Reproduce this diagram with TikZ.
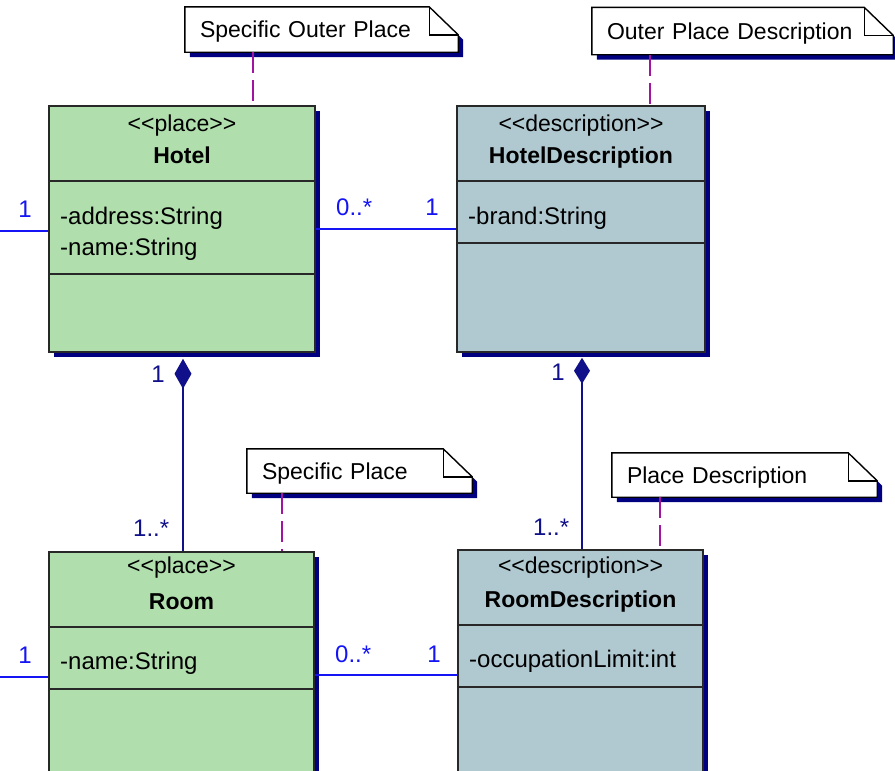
\documentclass[tikz,border=0pt]{standalone}
\usepackage{fontspec}
\setmainfont{Liberation Sans}
\usetikzlibrary{arrows.meta,shadows}
\pgfdeclarelayer{back}
\pgfsetlayers{back,main}

\definecolor{placegreen}{RGB}{176,222,173}
\definecolor{descblue}{RGB}{176,200,208}
\definecolor{dropnavy}{RGB}{0,0,128}
\definecolor{assocblue}{RGB}{20,20,245}
\definecolor{compnavy}{RGB}{16,16,138}
\definecolor{linkpurple}{RGB}{160,20,160}
\definecolor{edgegray}{RGB}{40,40,40}

\tikzset{
  txt/.style={inner sep=0pt, font=\fontsize{24}{28}\selectfont, text=black},
  ttl/.style={inner sep=0pt, font=\fontsize{23}{28}\selectfont\bfseries, text=black, anchor=base},
  stereo/.style={inner sep=0pt, font=\fontsize{23}{28}\selectfont, text=black, anchor=base},
  attr/.style={txt, anchor=base west},
  classbox/.style={draw=edgegray, line width=1.6pt, inner sep=0pt,
    drop shadow={shadow xshift=5pt, shadow yshift=-5pt, fill=dropnavy, opacity=1}},
  placecls/.style={classbox, fill=placegreen},
  desccls/.style={classbox, fill=descblue},
  divider/.style={draw=edgegray, line width=1.6pt},
  notebox/.style={inner xsep=15pt, inner ysep=0pt, font=\fontsize{23}{28}\selectfont,
    text=black, text height=16.5pt, text depth=0pt, align=left},
  notepaper/.style={draw=black, line width=1.4pt, fill=white},
  notelink/.style={draw=linkpurple, line width=1.8pt, dash pattern=on 21pt off 7pt},
  assoc/.style={draw=assocblue, line width=1.8pt},
  comp/.style={draw=compnavy, fill=compnavy, line width=1.8pt},
  multa/.style={txt, text=assocblue, anchor=base},
  multc/.style={txt, text=compnavy, anchor=base},
}

% note paper with folded corner and drop shadow, drawn behind the note's text
\newcommand\dogear[1]{%
  \begin{pgfonlayer}{back}
    \fill[dropnavy] ([shift={(5,5)}]#1.north west) -- ([shift={(-24,5)}]#1.north east)
      -- ([shift={(5,33)}]#1.north east) -- ([shift={(5,5)}]#1.south east)
      -- ([shift={(5,5)}]#1.south west) -- cycle;
    \filldraw[notepaper] (#1.north west) -- ([shift={(-29,0)}]#1.north east)
      -- ([shift={(0,28)}]#1.north east) -- (#1.south east) -- (#1.south west) -- cycle;
  \end{pgfonlayer}
  \draw[notepaper, fill=none] ([shift={(-29,0)}]#1.north east) |- ([shift={(0,28)}]#1.north east);
}

\begin{document}
\begin{tikzpicture}[x=1pt, y=-1pt]
\useasboundingbox (0,0) rectangle (895,771);
\begin{scope}
\clip (0,0) rectangle (895,771);

% ---------- classes ----------
\node[placecls, minimum width=266pt, minimum height=246pt] (hotel) at (182,229) {};
\node[desccls,  minimum width=248pt, minimum height=246pt] (hdesc) at (581,229) {};
\node[placecls, minimum width=265pt, minimum height=248pt] (room)  at (181.5,676) {};
\node[desccls,  minimum width=245pt, minimum height=250pt] (rdesc) at (580.5,675) {};

% compartments
\draw[divider] (hotel.west |- 0,181) -- (hotel.east |- 0,181);
\draw[divider] (hotel.west |- 0,274) -- (hotel.east |- 0,274);
\draw[divider] (hdesc.west |- 0,181) -- (hdesc.east |- 0,181);
\draw[divider] (hdesc.west |- 0,243) -- (hdesc.east |- 0,243);
\draw[divider] (room.west |- 0,627) -- (room.east |- 0,627);
\draw[divider] (room.west |- 0,689) -- (room.east |- 0,689);
\draw[divider] (rdesc.west |- 0,625) -- (rdesc.east |- 0,625);
\draw[divider] (rdesc.west |- 0,687) -- (rdesc.east |- 0,687);

% class texts
\node[stereo] (hotelst) at (182,131) {<\kern0pt<place>\kern0pt>};
\node[ttl]    (hotelnm) at (182,163) {Hotel};
\node[attr]   (hotela1) at (60,224) {-address:String};
\node[attr]   (hotela2) at (60,255) {-name:String};

\node[stereo] (hdescst) at (581,131) {<\kern0pt<description>\kern0pt>};
\node[ttl]    (hdescnm) at (581,163) {HotelDescription};
\node[attr]   (hdesca1) at (468,224) {-brand:String};

\node[stereo] (roomst) at (181.5,573) {<\kern0pt<place>\kern0pt>};
\node[ttl]    (roomnm) at (181.5,609) {Room};
\node[attr]   (rooma1) at (60,669) {-name:String};

\node[stereo] (rdescst) at (580.5,573) {<\kern0pt<description>\kern0pt>};
\node[ttl]    (rdescnm) at (580.5,607) {RoomDescription};
\node[attr]   (rdesca1) at (469,667) {-occupationLimit:int};

% ---------- associations ----------
\coordinate (hotelfree) at (0,231);
\coordinate (roomfree) at (0,677);
\draw[assoc] (hotelfree) -- (hotel.west |- hotelfree);
\draw[assoc] (roomfree) -- (room.west |- roomfree);
\draw[assoc] (hotel.east) -- (hdesc.west);
\draw[assoc] (room.east |- 0,675) -- (rdesc.west |- 0,675);

\node[multa] (m1) at (25,217) {1};
\node[multa, anchor=base west] (m2) at (336,215) {0..*};
\node[multa] (m3) at (432,215) {1};
\node[multa] (m4) at (25,663) {1};
\node[multa, anchor=base west] (m5) at (335,662) {0..*};
\node[multa] (m6) at (434,662) {1};

% ---------- compositions ----------
\draw[comp, -{Diamond[length=30pt,width=17pt]}, shorten >=6pt]
  (183,0 |- room.north) -- (183,0 |- hotel.south);
\draw[comp, -{Diamond[length=26pt,width=16pt]}, shorten >=5pt]
  (582,0 |- rdesc.north) -- (582,0 |- hdesc.south);

\node[multc] (c1) at (158,382) {1};
\node[multc, anchor=base west] (c2) at (133,536) {1..*};
\node[multc] (c3) at (558,380) {1};
\node[multc, anchor=base west] (c4) at (533,535) {1..*};

% ---------- notes ----------
\node[notebox, minimum width=273pt, minimum height=45pt, text width=243pt] (n1) at (321.5,29.5) {Specific Outer Place};
\node[notebox, minimum width=301pt, minimum height=47pt, text width=271pt] (n2) at (742.5,31) {Outer Place Description};
\node[notebox, minimum width=225pt, minimum height=44pt, text width=195pt] (n3) at (359.5,471) {Specific Place};
\node[notebox, minimum width=265pt, minimum height=44pt, text width=235pt] (n4) at (744.5,475) {Place Description};
\dogear{n1}
\dogear{n2}
\dogear{n3}
\dogear{n4}

\draw[notelink] (253,0 |- n1.south) -- (253,0 |- hotel.north);
\draw[notelink] (650,0 |- n2.south) -- (650,0 |- hdesc.north);
\draw[notelink] (282,0 |- n3.south) -- (282,0 |- room.north);
\draw[notelink] (660,0 |- n4.south) -- (660,0 |- rdesc.north);
\end{scope}
\end{tikzpicture}
\end{document}
